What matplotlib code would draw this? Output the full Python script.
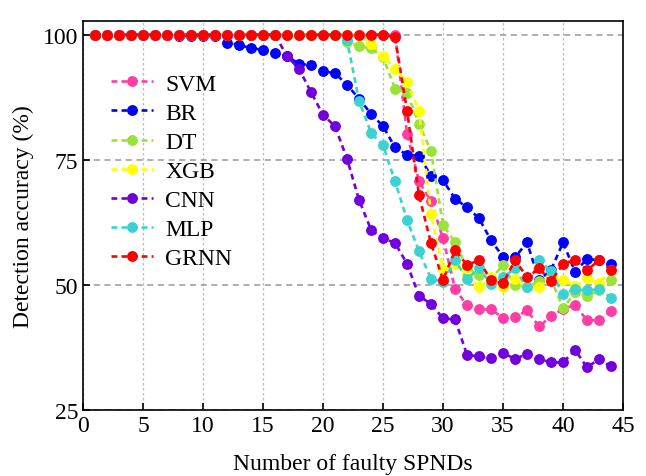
import numpy as np
import matplotlib
matplotlib.use("Agg")
import matplotlib.pyplot as plt

plt.rcParams['font.family'] = ['Liberation Serif', 'DejaVu Serif']
plt.rcParams['mathtext.fontset'] = 'stix'

# number of faulty SPNDs
faults = list(range(1, 45))

svm = [100, 100, 100, 100, 100, 100, 100, 100, 100, 100, 100, 100, 100,
       100, 100, 100, 100, 100, 100, 100, 100, 100, 100, 100, 100, 100,
       80.2, 70.7, 66.7, 59.3, 49.2, 45.9, 45.1, 45.1, 43.4, 43.5, 44.9,
       41.7, 43.7, 45.2, 46.0, 42.9, 43.0, 44.7]
br = [100, 100, 100, 100, 100, 100, 100, 99.7, 99.7, 99.7, 99.7, 98.4,
      98.0, 97.3, 97.0, 96.3, 95.7, 94.2, 93.9, 92.7, 92.3, 90.0, 87.2,
      84.2, 81.7, 77.5, 76.0, 75.8, 71.8, 70.9, 67.2, 65.5, 63.3, 58.9,
      55.6, 55.5, 58.5, 50.9, 53.0, 58.5, 52.6, 55.2, 54.9, 54.2]
dt = [100, 100, 100, 100, 100, 100, 100, 100, 100, 100, 100, 100, 100,
      100, 100, 100, 100, 100, 100, 100, 100, 98.5, 97.7, 97.3, 95.5,
      89.2, 88.4, 82.2, 76.7, 62.0, 58.5, 53.3, 52.0, 51.3, 53.9, 49.9,
      49.5, 50.8, 51.2, 45.3, 48.5, 47.7, 49.0, 50.9]
xgb = [100, 100, 100, 100, 100, 100, 100, 100, 100, 100, 100, 100, 100,
       100, 100, 100, 100, 100, 100, 100, 100, 100, 100, 98.2, 95.7, 93.2,
       90.5, 84.8, 64.1, 53.2, 54.2, 52.0, 49.5, 51.5, 49.5, 51.1, 49.6,
       49.6, 51.5, 50.9, 49.8, 51.3, 50.3, 52.9]
cnn = [100, 100, 100, 100, 100, 100, 100, 100, 100, 100, 100, 100, 100,
       100, 100, 100, 95.7, 93.2, 88.5, 84.0, 81.7, 75.2, 67.0, 61.0,
       59.3, 58.4, 54.2, 47.8, 46.2, 43.3, 43.1, 36.0, 35.7, 35.3, 36.4,
       35.2, 36.2, 35.2, 34.5, 34.5, 37.0, 33.5, 35.2, 33.7]
mlp = [100, 100, 100, 100, 100, 100, 100, 100, 100, 100, 100, 100, 100,
       100, 100, 100, 100, 100, 100, 100, 100, 98.9, 86.8, 80.4, 77.9,
       70.7, 63.0, 56.7, 51.2, 50.6, 54.9, 51.2, 53.3, 50.2, 51.5, 53.3,
       49.5, 54.9, 52.7, 48.2, 49.1, 48.9, 49.2, 47.4]
grnn = [100, 100, 100, 100, 100, 100, 100, 100, 100, 100, 100, 100, 100,
        100, 100, 100, 100, 100, 100, 100, 100, 100, 100, 100, 100, 99.5,
        84.8, 67.9, 58.3, 51.0, 56.9, 54.0, 54.9, 50.9, 50.3, 55.0, 51.5,
        53.3, 50.7, 54.2, 55.0, 53.0, 54.9, 53.0]

names = ["SVM", "BR", "DT", "XGB", "CNN", "MLP", "GRNN"]
series = [svm, br, dt, xgb, cnn, mlp, grnn]
colors = ["#FF3EA5", "#0000FF", "#9BE23A", "#FFFF00", "#7000DC", "#3CD2D2", "#FF0000"]

fig = plt.figure(figsize=(6.46, 4.77), dpi=100)
ax = fig.add_axes([0.1285, 0.1384, 0.836, 0.816])

for name, vals, c in zip(names, series, colors):
    ax.plot(faults, vals, linestyle=(0, (2.2, 1.6)), linewidth=1.9, color=c,
            marker='o', markersize=6.8, label=name)

ax.set_xlim(0, 45)
ax.set_ylim(25, 102.8)
ax.set_xticks(range(0, 46, 5))
ax.set_yticks([25, 50, 75, 100])
ax.tick_params(direction='in', labelsize=17, length=5, width=1.2)

ax.xaxis.grid(True, linestyle=(0, (2, 2)), color='#BBBBBB', linewidth=0.9)
ax.yaxis.grid(True, linestyle=(0, (4, 3)), color='#999999', linewidth=1.1)
ax.set_axisbelow(True)
for s in ax.spines.values():
    s.set_linewidth(1.2)

ax.set_xlabel("Number of faulty SPNDs", fontsize=17, labelpad=12)
ax.set_ylabel("Detection accuracy (%)", fontsize=17, labelpad=6)

ax.legend(loc='upper left', bbox_to_anchor=(0.012, 0.92), frameon=False,
          fontsize=17, handlelength=1.8, labelspacing=0.32, handletextpad=0.5)

fig.savefig("out.png", dpi=100)
